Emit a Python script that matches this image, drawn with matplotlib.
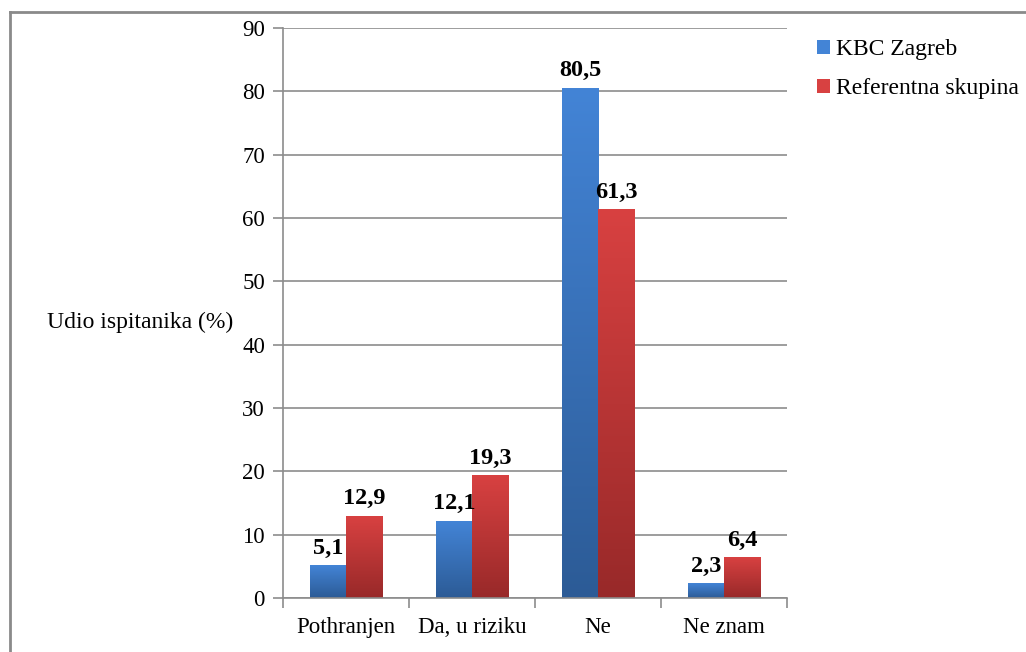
import matplotlib
matplotlib.use("Agg")
import matplotlib.pyplot as plt
import numpy as np
from matplotlib.lines import Line2D
from matplotlib.colors import LinearSegmentedColormap

categories = ["Pothranjen", "Da, u riziku", "Ne", "Ne znam"]
kbc = [5.1, 12.1, 80.5, 2.3]
ref = [12.9, 19.3, 61.3, 6.4]
series_names = ["KBC Zagreb", "Referentna skupina"]
yticks = [0, 10, 20, 30, 40, 50, 60, 70, 80, 90]

plt.rcParams['font.family'] = ['Liberation Serif', 'DejaVu Serif']

fig = plt.figure(figsize=(10.26, 6.52), dpi=100)
ax = fig.add_axes([283/1026, 1-598/652, 504/1026, 570/652])

x = np.arange(len(categories))
w = 0.286
blue_top, blue_bot = "#4384D6", "#2C5B96"
red_top, red_bot = "#D84141", "#982929"

def grad_bars(xs, vals, top, bot, label):
    bars = ax.bar(xs, vals, w, color=top, label=label, zorder=2)
    cmap = LinearSegmentedColormap.from_list("g", [bot, top])
    grad = np.linspace(0, 1, 256).reshape(-1, 1)
    for b in bars:
        x0 = b.get_x(); x1 = x0 + b.get_width(); h = b.get_height()
        ax.imshow(grad, extent=[x0, x1, 0, h], origin="lower", cmap=cmap,
                  aspect="auto", zorder=2.1)
    return bars

b1 = grad_bars(x - w/2, kbc, blue_top, blue_bot, series_names[0])
b2 = grad_bars(x + w/2, ref, red_top, red_bot, series_names[1])

for bars, vals in ((b1, kbc), (b2, ref)):
    for b, v in zip(bars, vals):
        ax.annotate(f"{v:.1f}".replace(".", ","),
                    (b.get_x() + b.get_width()/2, v), xytext=(0, 5),
                    textcoords="offset points", ha="center", va="bottom",
                    fontsize=17.5, fontweight="bold", zorder=3)

ax.set_xlim(-0.5, len(categories) - 0.5)
ax.set_ylim(0, 90)
ax.set_yticks(yticks)
ax.set_yticklabels([str(t) for t in yticks], fontsize=16.5)
ax.yaxis.grid(True, color="#8c8c8c", linewidth=1.2, zorder=0)
ax.set_axisbelow(True)

ax.set_xticks(x)
ax.set_xticklabels(categories, fontsize=16.5)
ax.set_xticks(np.arange(len(categories) + 1) - 0.5, minor=True)
ax.tick_params(axis="x", which="major", length=0, pad=14)
ax.tick_params(axis="x", which="minor", length=7, color="#8c8c8c", width=1.2)
ax.tick_params(axis="y", length=7, color="#8c8c8c", width=1.2, pad=6)

for s in ("top", "right"):
    ax.spines[s].set_visible(False)
for s in ("left", "bottom"):
    ax.spines[s].set_color("#8c8c8c")
    ax.spines[s].set_linewidth(1.2)

fig.text(140/1026, 1-322/652, "Udio ispitanika (%)", fontsize=17,
         ha="center", va="center")

leg = fig.legend(loc="upper left", bbox_to_anchor=(808/1026, 1-30/652),
                 frameon=False, fontsize=17, handlelength=0.55,
                 handleheight=0.55, handletextpad=0.25, labelspacing=0.75,
                 borderaxespad=0)

fig.add_artist(Line2D([10/1026, 10/1026], [0, 1-12/652],
                      transform=fig.transFigure, color="#8a8a8a", lw=2))
fig.add_artist(Line2D([10/1026, 1], [1-12/652, 1-12/652],
                      transform=fig.transFigure, color="#8a8a8a", lw=2))

fig.savefig("out.png", dpi=100)
